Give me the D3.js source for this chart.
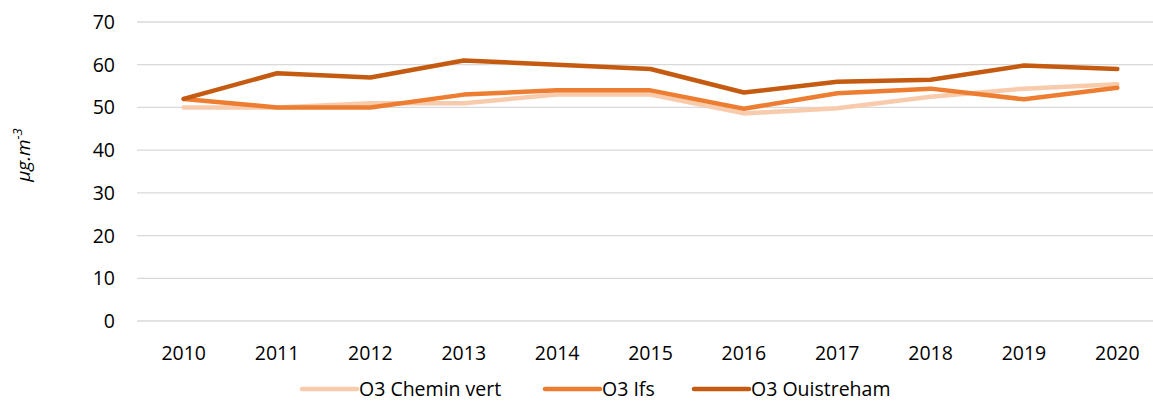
<!DOCTYPE html>
<html>
<head>
<meta charset="utf-8">
<script src="https://cdn.jsdelivr.net/npm/d3@7"></script>
<style>
  body { margin: 0; background: #fff; }
  svg text { font-family: "Open Sans", "Noto Sans", sans-serif; fill: #000; }
</style>
</head>
<body>
<div id="chart"></div>
<script>
// Data
const years = ['2010', '2011', '2012', '2013', '2014', '2015', '2016', '2017', '2018', '2019', '2020'];
const cheminVert = [50, 50, 51, 51, 53, 53, 48.6, 49.8, 52.5, 54.4, 55.4];
const ifs = [52, 50, 50, 53, 54, 54, 49.7, 53.3, 54.4, 51.9, 54.6];
const ouistreham = [52, 58, 57, 61, 60, 59, 53.5, 56, 56.5, 59.8, 59];
const yTicks = [0, 10, 20, 30, 40, 50, 60, 70];

const series = [
  { name: 'O3 Chemin vert', values: cheminVert, color: '#F8CBAD' },
  { name: 'O3 Ifs', values: ifs, color: '#ED7D31' },
  { name: 'O3 Ouistreham', values: ouistreham, color: '#C55A11' },
];

const width = 1153, height = 403;
const margin = { top: 22, right: -11, bottom: 82, left: 137 };

const svg = d3.select('#chart').append('svg')
  .attr('width', width)
  .attr('height', height);

const x = d3.scaleBand()
  .domain(years)
  .range([margin.left, width - margin.right]);

const y = d3.scaleLinear()
  .domain([0, 70])
  .range([height - margin.bottom, margin.top]);

// Gridlines
svg.append('g')
  .selectAll('line')
  .data(yTicks)
  .join('line')
  .attr('x1', margin.left)
  .attr('x2', width)
  .attr('y1', (d) => y(d))
  .attr('y2', (d) => y(d))
  .attr('stroke', '#d9d9d9')
  .attr('stroke-width', 1.3);

// Y axis labels
svg.append('g')
  .selectAll('text')
  .data(yTicks)
  .join('text')
  .attr('x', 115)
  .attr('y', (d) => y(d))
  .attr('dy', '0.36em')
  .attr('text-anchor', 'end')
  .style('font-size', '19.5px')
  .text((d) => d);

// X axis labels
svg.append('g')
  .selectAll('text')
  .data(years)
  .join('text')
  .attr('x', (d) => x(d) + x.bandwidth() / 2)
  .attr('y', 360)
  .attr('text-anchor', 'middle')
  .style('font-size', '19.5px')
  .text((d) => d);

// Y axis title
const yTitle = svg.append('text')
  .attr('transform', 'translate(30,155) rotate(-90)')
  .attr('text-anchor', 'middle')
  .style('font-size', '19px')
  .style('font-style', 'italic');
yTitle.append('tspan').text('µg.m');
yTitle.append('tspan').attr('dy', -8).style('font-size', '13px').text('-3');

// Lines
const line = d3.line()
  .x((d, i) => x(years[i]) + x.bandwidth() / 2)
  .y((d) => y(d));

svg.append('g')
  .selectAll('path')
  .data(series)
  .join('path')
  .attr('d', (d) => line(d.values))
  .attr('fill', 'none')
  .attr('stroke', (d) => d.color)
  .attr('stroke-width', 4.5)
  .attr('stroke-linejoin', 'round')
  .attr('stroke-linecap', 'round');

// Legend
const legendX = [302, 545, 694];
const legend = svg.append('g')
  .selectAll('g')
  .data(series)
  .join('g')
  .attr('transform', (d, i) => `translate(${legendX[i]},389)`);

legend.append('line')
  .attr('x1', 0)
  .attr('x2', 55)
  .attr('stroke', (d) => d.color)
  .attr('stroke-width', 4.5)
  .attr('stroke-linecap', 'round');

legend.append('text')
  .attr('x', 57)
  .attr('dy', '0.36em')
  .style('font-size', '19.5px')
  .text((d) => d.name);
</script>
</body>
</html>
